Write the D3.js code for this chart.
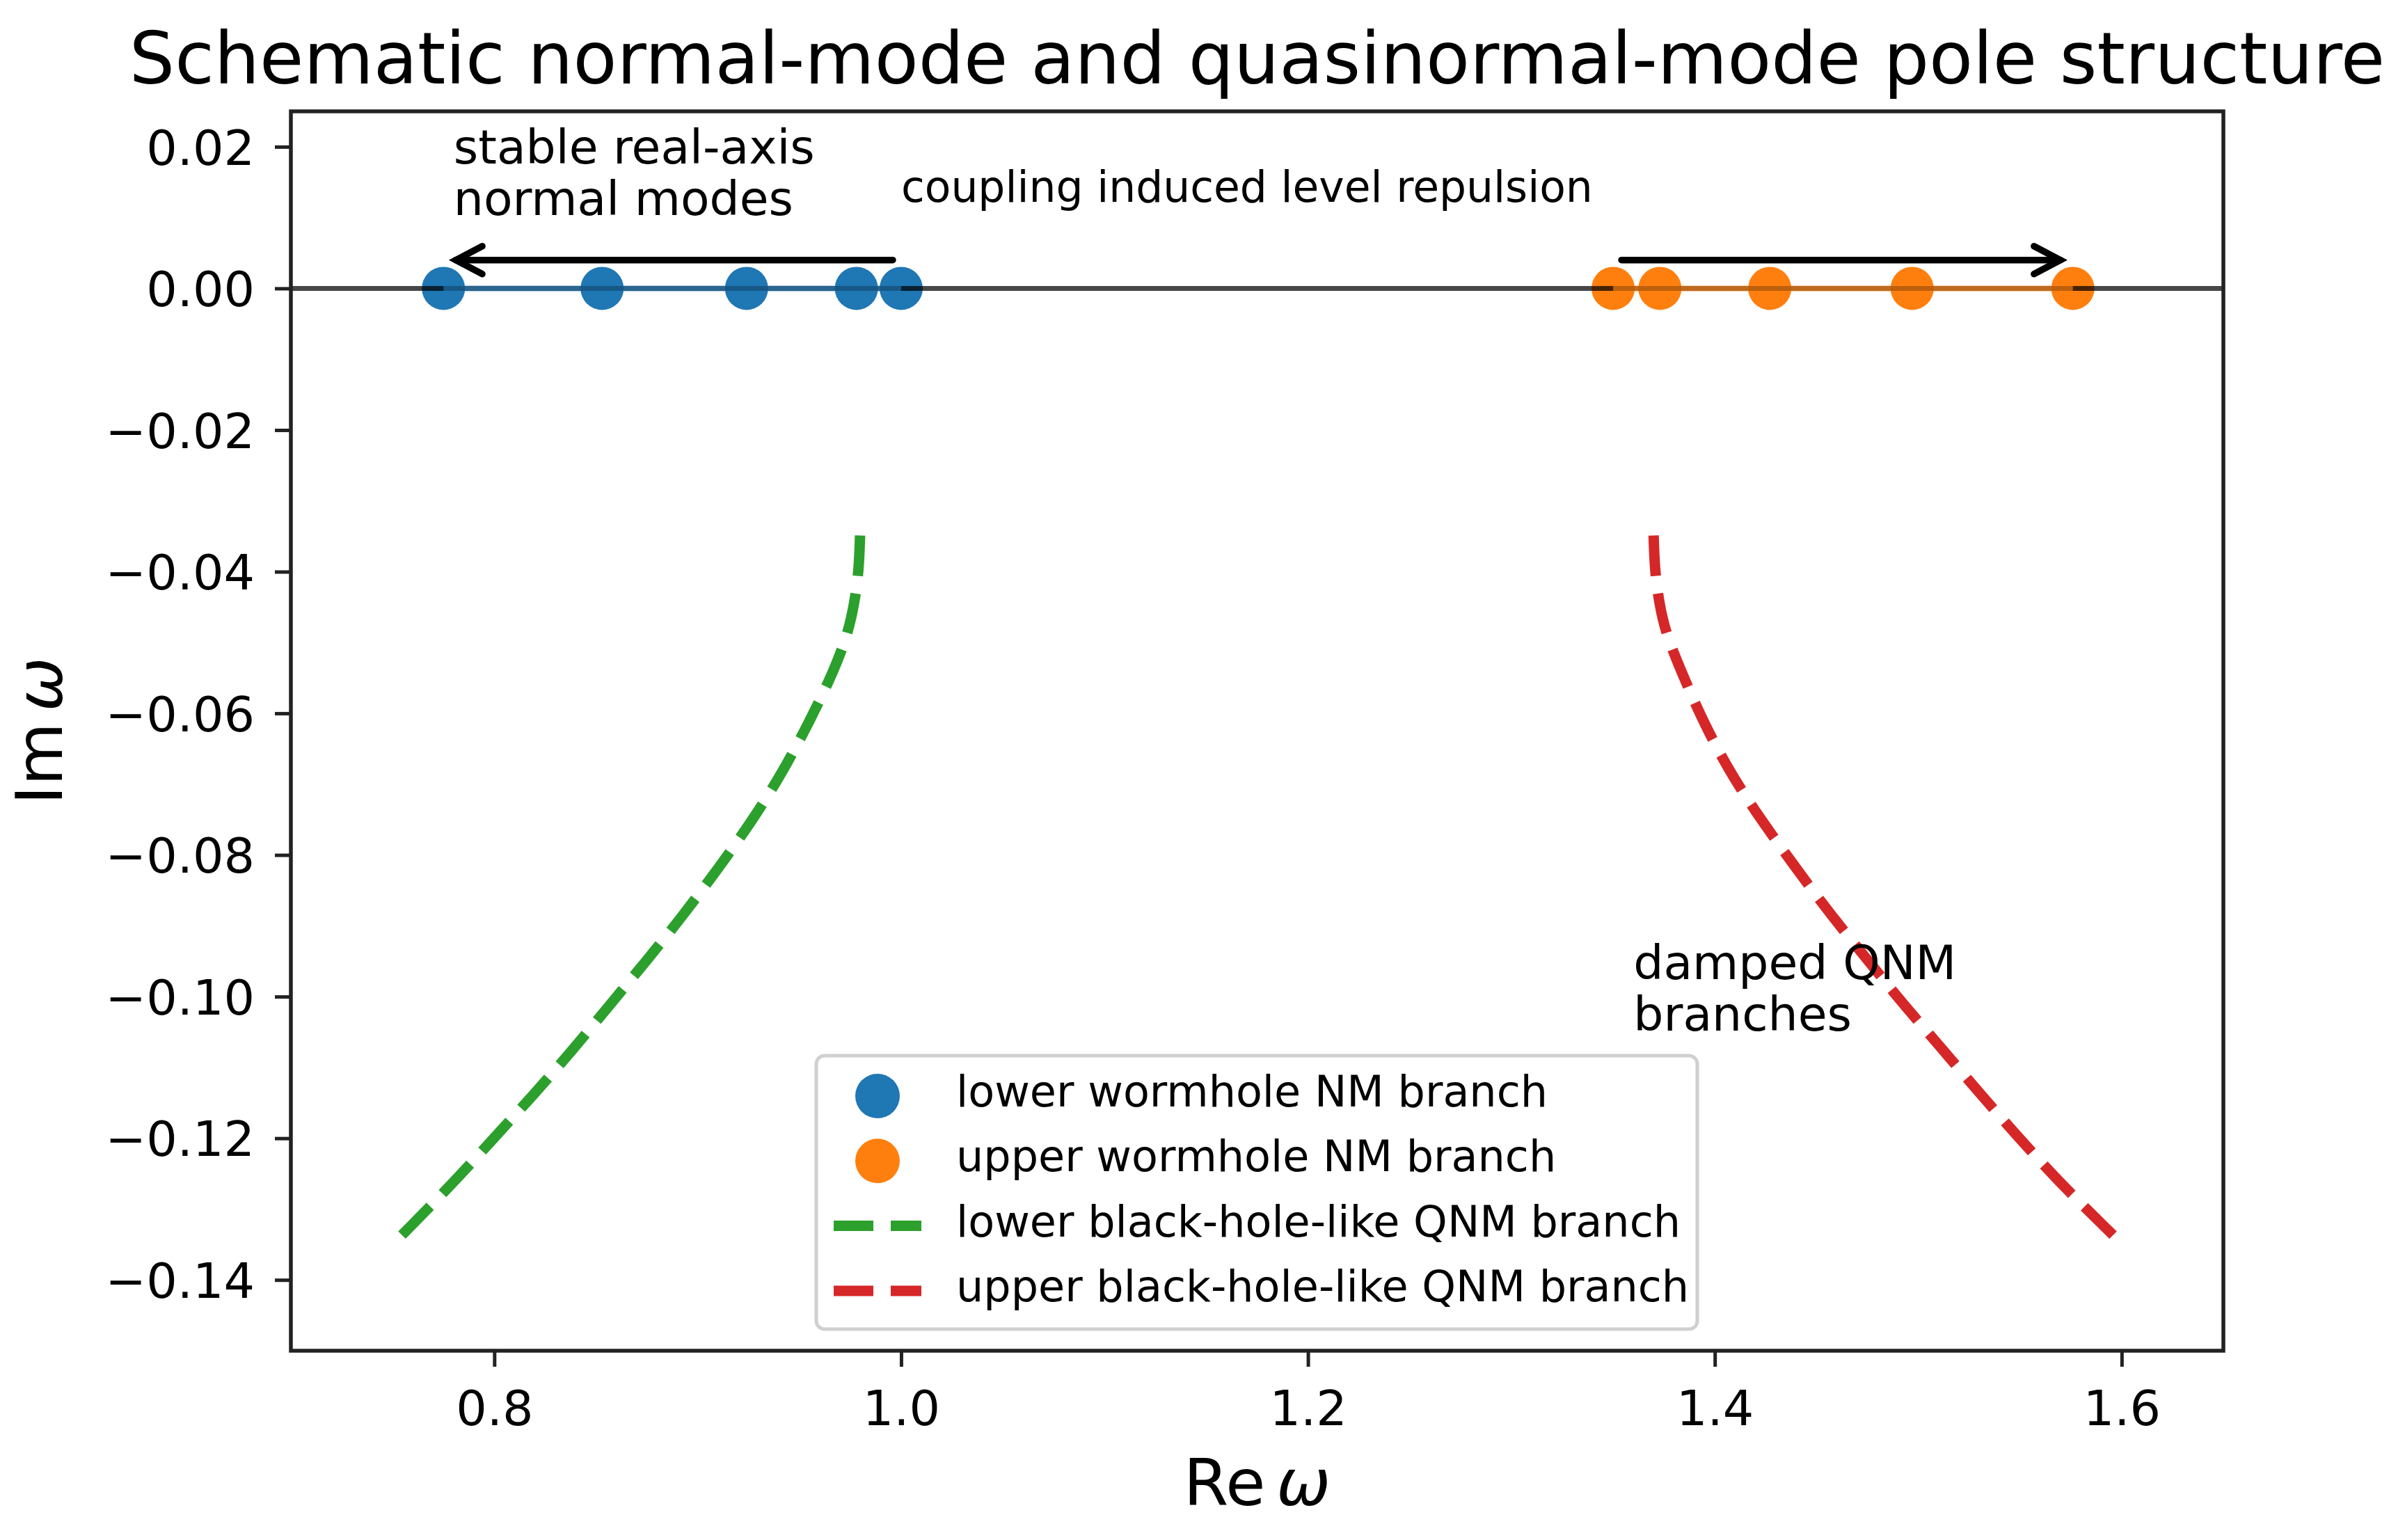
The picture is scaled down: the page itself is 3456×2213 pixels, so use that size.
<!DOCTYPE html>
<html>
<head>
<meta charset="utf-8">
<script src="https://cdn.jsdelivr.net/npm/d3@7"></script>
<style>
  body { margin: 0; background: #fff; }
  text { font-family: "DejaVu Sans", sans-serif; fill: #000; }
</style>
</head>
<body>
<div id="chart"></div>
<script>
// ---- data ----
const xTicks = [0.8, 1.0, 1.2, 1.4, 1.6];
const yTicks = [0.02, 0.0, -0.02, -0.04, -0.06, -0.08, -0.10, -0.12, -0.14];

// wormhole normal modes sit on the real axis (Im = 0)
const lowerNM = [0.775, 0.853, 0.924, 0.978, 1.0];
const upperNM = [1.350, 1.373, 1.427, 1.497, 1.576];

// black-hole-like QNM branches
const lowerQNMre = [0.9798, 0.9792, 0.9770, 0.9740, 0.9675, 0.9549, 0.9412, 0.9262, 0.9101, 0.8926, 0.8749, 0.8564, 0.8383, 0.8195, 0.8000, 0.7805, 0.7545];
const lowerQNMim = [-0.0349, -0.0400, -0.0445, -0.0485, -0.0537, -0.0612, -0.0686, -0.0754, -0.0819, -0.0886, -0.0949, -0.1013, -0.1076, -0.1138, -0.1199, -0.1261, -0.1337];
const upperQNMre = [1.3699, 1.3705, 1.3727, 1.3757, 1.3829, 1.3942, 1.4079, 1.4236, 1.4400, 1.4574, 1.4759, 1.4933, 1.5118, 1.5306, 1.5491, 1.5689, 1.5959];
const upperQNMim = [-0.0349, -0.0400, -0.0445, -0.0485, -0.0537, -0.0612, -0.0686, -0.0754, -0.0819, -0.0886, -0.0951, -0.1013, -0.1074, -0.1138, -0.1198, -0.1261, -0.1337];

const seriesNames = ["lower wormhole NM branch", "upper wormhole NM branch",
                     "lower black-hole-like QNM branch", "upper black-hole-like QNM branch"];

const notes = [
  { lines: ["stable real-axis", "normal modes"], x: 0.78, y: 0.0176, size: 68 },
  { lines: ["coupling induced level repulsion"], x: 1.0, y: 0.0122, size: 61.5 },
  { lines: ["damped QNM", "branches"], x: 1.36, y: -0.0975, size: 68 }
];
const arrows = [
  { from: [1.0, 0.004], to: [0.777, 0.004] },
  { from: [1.35, 0.004], to: [1.574, 0.004] }
];

// ---- layout ----
const W = 3456, H = 2213;
const box = { left: 418, top: 160, right: 3195, bottom: 1941 };
const blue = "#1f77b4", orange = "#ff7f0e", green = "#2ca02c", red = "#d62728";
const dash = 57, gap = 25;

const x = d3.scaleLinear().domain([0.7, 1.65]).range([box.left, box.right]);
const y = d3.scaleLinear().domain([-0.15, 0.025]).range([box.bottom, box.top]);

const svg = d3.select("#chart").append("svg")
    .attr("width", W)
    .attr("height", H);

svg.append("rect").attr("width", W).attr("height", H).attr("fill", "#fff");

svg.append("clipPath").attr("id", "plotclip")
  .append("rect")
    .attr("x", box.left).attr("y", box.top)
    .attr("width", box.right - box.left).attr("height", box.bottom - box.top);

const plot = svg.append("g").attr("clip-path", "url(#plotclip)");

// markers first, lines go over them like in matplotlib
plot.selectAll("circle.lower")
  .data(lowerNM)
  .enter().append("circle")
    .attr("cx", d => x(d)).attr("cy", y(0)).attr("r", 31)
    .attr("fill", blue);

plot.selectAll("circle.upper")
  .data(upperNM)
  .enter().append("circle")
    .attr("cx", d => x(d)).attr("cy", y(0)).attr("r", 31)
    .attr("fill", orange);

// real axis
plot.append("line")
    .attr("x1", box.left).attr("x2", box.right)
    .attr("y1", y(0)).attr("y2", y(0))
    .attr("stroke", "#000").attr("stroke-opacity", 0.72).attr("stroke-width", 7);

// branch lines through the normal modes
[[lowerNM, blue], [upperNM, orange]].forEach(([vals, col]) => {
  plot.append("line")
      .attr("x1", x(d3.min(vals))).attr("x2", x(d3.max(vals)))
      .attr("y1", y(0)).attr("y2", y(0))
      .attr("stroke", col).attr("stroke-opacity", 0.65).attr("stroke-width", 8);
});

// QNM curves
const curve = d3.line()
    .x(d => x(d[0]))
    .y(d => y(d[1]))
    .curve(d3.curveBasis);

[[lowerQNMre, lowerQNMim, green], [upperQNMre, upperQNMim, red]].forEach(([re, im, col]) => {
  const p = plot.append("path")
      .attr("d", curve(re.map((r, i) => [r, im[i]])))
      .attr("fill", "none")
      .attr("stroke", col)
      .attr("stroke-width", 15);
  // stretch the dash pattern a touch so both ends finish on a dash
  const L = p.node().getTotalLength();
  const n = Math.round((L + gap) / (dash + gap));
  const k = (L + gap) / (n * (dash + gap));
  p.attr("stroke-dasharray", `${dash * k} ${gap * k}`);
});

// arrows (open "->" heads), shrunk a bit at both ends
arrows.forEach(a => {
  const dir = Math.sign(a.to[0] - a.from[0]);
  const x0 = x(a.from[0]) + dir * 12, x1 = x(a.to[0]) - dir * 12;
  const yy = y(a.from[1]);
  svg.append("line")
      .attr("x1", x0).attr("x2", x1).attr("y1", yy).attr("y2", yy)
      .attr("stroke", "#000").attr("stroke-width", 9.5).attr("stroke-linecap", "round");
  svg.append("path")
      .attr("d", `M${x1 - dir * 38},${yy - 20}L${x1},${yy}L${x1 - dir * 38},${yy + 20}`)
      .attr("fill", "none").attr("stroke", "#000").attr("stroke-width", 9.5)
      .attr("stroke-linecap", "round").attr("stroke-linejoin", "miter");
});

// annotations
notes.forEach(n => {
  const t = svg.append("text")
      .attr("x", x(n.x)).attr("y", y(n.y))
      .attr("font-size", n.size);
  n.lines.forEach((ln, i) => {
    t.append("tspan").attr("x", x(n.x)).attr("dy", i === 0 ? 0 : "1.09em").text(ln);
  });
});

// ---- axes ----
const yAxis = d3.axisLeft(y).tickValues(yTicks).tickFormat(d3.format(".2f"))
    .tickSize(23).tickSizeOuter(0);
const xAxis = d3.axisBottom(x).tickValues(xTicks).tickFormat(d3.format(".1f"))
    .tickSize(23).tickSizeOuter(0);

const gy = svg.append("g").attr("transform", `translate(${box.left},0)`).call(yAxis);
const gx = svg.append("g").attr("transform", `translate(0,${box.bottom})`).call(xAxis);

[gy, gx].forEach(g => {
  g.select(".domain").remove();
  g.selectAll(".tick line").attr("stroke", "#222").attr("stroke-width", 5);
  g.selectAll(".tick text")
      .attr("font-family", "DejaVu Sans").attr("font-size", 70).attr("fill", "#000");
});
gy.selectAll(".tick text").attr("x", -52).attr("dy", "0.36em");
gx.selectAll(".tick text").attr("y", 107).attr("dy", 0);

// spines
svg.append("rect")
    .attr("x", box.left).attr("y", box.top)
    .attr("width", box.right - box.left).attr("height", box.bottom - box.top)
    .attr("fill", "none").attr("stroke", "#222").attr("stroke-width", 5.5);

// labels and title
const cx = (box.left + box.right) / 2;
const xl = svg.append("text").attr("x", cx).attr("y", 2163)
    .attr("text-anchor", "middle").attr("font-size", 93);
xl.append("tspan").text("Re");
xl.append("tspan").attr("dx", "0.17em").attr("font-style", "italic").text("ω");

const yl = svg.append("text")
    .attr("transform", `translate(89,${(box.top + box.bottom) / 2}) rotate(-90)`)
    .attr("text-anchor", "middle").attr("font-size", 93);
yl.append("tspan").text("Im");
yl.append("tspan").attr("dx", "0.17em").attr("font-style", "italic").text("ω");

svg.append("text").attr("x", cx).attr("y", 120)
    .attr("text-anchor", "middle").attr("font-size", 103)
    .text("Schematic normal-mode and quasinormal-mode pole structure");

// ---- legend ----
const leg = svg.append("g");
leg.append("rect")
    .attr("x", 1173).attr("y", 1517).attr("width", 1266).attr("height", 393)
    .attr("rx", 12)
    .attr("fill", "#fff").attr("fill-opacity", 0.8)
    .attr("stroke", "#d0d0d0").attr("stroke-width", 5);

const legRows = leg.selectAll("g.row")
  .data(seriesNames)
  .enter().append("g")
    .attr("transform", (d, i) => `translate(0,${1590 + i * 93.3})`);

legRows.each(function(d, i) {
  const g = d3.select(this);
  const col = [blue, orange, green, red][i];
  if (i < 2) {
    g.append("circle").attr("cx", 1261).attr("cy", -15).attr("r", 32).attr("fill", col);
  } else {
    g.append("line").attr("x1", 1198).attr("x2", 1324).attr("y1", -15).attr("y2", -15)
        .attr("stroke", col).attr("stroke-width", 15).attr("stroke-dasharray", `${dash} ${gap}`);
  }
  g.append("text").attr("x", 1374).attr("y", 0).attr("font-size", 62).text(d);
});
</script>
</body>
</html>
